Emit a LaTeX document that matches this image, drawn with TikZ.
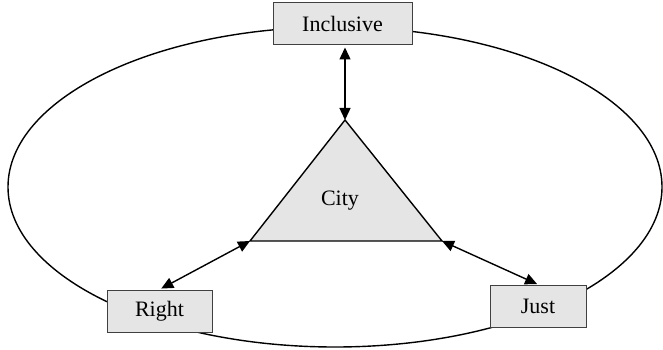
\documentclass[tikz,border=0pt]{standalone}
\usepackage{fontspec}
\setmainfont{Liberation Serif}
\usetikzlibrary{arrows.meta}
\begin{document}
\begin{tikzpicture}[x=1pt,y=-1pt,
  label box/.style={draw=black!75, line width=1pt, fill=black!10, inner sep=0pt, minimum height=42pt, font=\fontsize{22}{26}\selectfont},
  link/.style={line width=1.4pt, {Triangle[length=12pt,width=11pt]}-{Triangle[length=12pt,width=11pt]}},
  ring/.style={line width=1.4pt}]
\useasboundingbox (0,0) rectangle (663,350);
% outer ellipse
\draw[ring] (335,187) ellipse [x radius=327, y radius=160];
% triangle
\coordinate (apex) at (345,120);
\coordinate (bl) at (250,241);
\coordinate (br) at (442,241);
\draw[line width=1.4pt, fill=black!10] (apex) -- (bl) -- (br) -- cycle;
\node[font=\fontsize{22}{26}\selectfont] (city) at (340,201) {City};
% boxes
\node[label box, minimum width=139pt] (incl) at (342.5,24) {Inclusive};
\node[label box, minimum width=105pt] (right) at (159.5,311) {Right};
\node[label box, minimum width=96pt] (just) at (538,306) {Just};
% arrows
\draw[link, shorten <=2pt] (incl.south -| apex) -- (apex);
\draw[link, shorten >=2pt] (bl) -- (right.north);
\draw[link, shorten >=1pt] (br) -- (just.north);
\end{tikzpicture}
\end{document}
